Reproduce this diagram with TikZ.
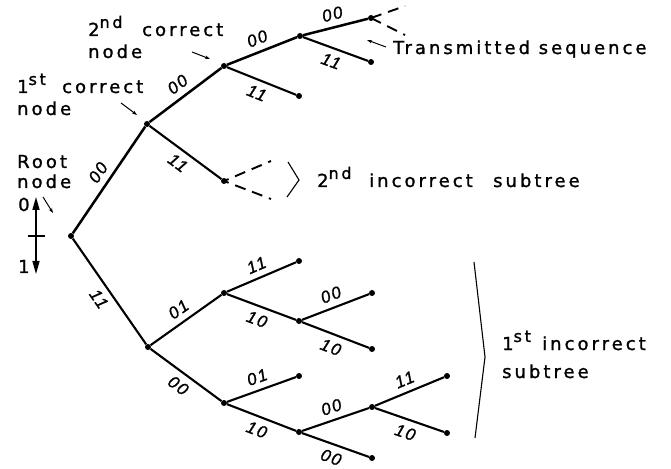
\documentclass[tikz,border=0pt]{standalone}
\usepackage{fontspec}
\setmainfont{DejaVu Sans}[LetterSpace=17,FakeBold=1.3]
\newfontfamily\labfont{Liberation Sans Italic}[LetterSpace=10,FakeBold=1.2]
\usetikzlibrary{arrows.meta}
\newcommand{\supx}[1]{\raisebox{0.45em}{\fontsize{16}{16}\selectfont #1}}
\begin{document}
\begin{tikzpicture}[x=1bp,y=-1bp,
  dot/.style={circle,fill,inner sep=0pt,minimum size=6bp},
  br/.style={line width=2.1bp},
  mainbr/.style={line width=2.5bp},
  dsh/.style={line width=1.9bp,dash pattern=on 11bp off 7bp},
  lab/.style={font=\labfont\fontsize{17}{17}\selectfont,inner sep=0pt},
  lbup/.style={lab,above=6bp,sloped},
  lbdn/.style={lab,below=6bp,sloped},
  txt/.style={font=\fontsize{18}{18}\selectfont,inner sep=0pt,anchor=base west},
  pt/.style={-{Stealth[length=5bp,width=3.5bp]},line width=1bp},
  thin/.style={line width=1.1bp}]
\useasboundingbox (0,0) rectangle (671,469);
% nodes
\node[dot] (r) at (71,236) {};
\node[dot] (c1) at (147,124) {};
\node[dot] (c2) at (224,66) {};
\node[dot] (c3) at (300,36) {};
\node[dot] (c4) at (371,18) {};
\node[dot] (a1) at (299,96) {};
\node[dot] (a2) at (371,62) {};
\node[dot] (i2) at (224,181) {};
\coordinate (d1) at (405,6);
\coordinate (d2) at (405,35);
\coordinate (e1) at (271,161);
\coordinate (e2) at (271,199);
\node[dot] (l1) at (148,347) {};
\node[dot] (l2) at (224,293) {};
\node[dot] (l3) at (299,261) {};
\node[dot] (l4) at (299,321) {};
\node[dot] (l5) at (372,293) {};
\node[dot] (l6) at (372,349) {};
\node[dot] (m1) at (224,403) {};
\node[dot] (m2) at (299,376) {};
\node[dot] (m3) at (299,432) {};
\node[dot] (m4) at (372,407) {};
\node[dot] (m5) at (372,458) {};
\node[dot] (m6) at (447,376) {};
\node[dot] (m7) at (447,433) {};
% correct path
\draw[mainbr] (r) -- node[lbup]{00} (c1);
\draw[mainbr] (c1) -- node[lbup]{00} (c2);
\draw[mainbr] (c2) -- node[lbup]{00} (c3);
\draw[mainbr] (c3) -- node[lbup]{00} (c4);
\draw[br] (c2) -- node[lbdn]{11} (a1);
\draw[br] (c3) -- node[lbdn]{11} (a2);
\draw[br] (c1) -- node[lbdn]{11} (i2);
\draw[dsh] (c4.center) -- (d1);
\draw[dsh] (c4.center) -- (d2);
\draw[dsh,dash phase=6bp] (i2.center) -- (e1);
\draw[dsh,dash phase=6bp] (i2.center) -- (e2);
% lower subtree
\draw[br] (r) -- node[lbdn]{11} (l1);
\draw[br] (l1) -- node[lbup]{01} (l2);
\draw[br] (l2) -- node[lbup]{11} (l3);
\draw[br] (l2) -- node[lbdn]{10} (l4);
\draw[br] (l4) -- node[lbup]{00} (l5);
\draw[br] (l4) -- node[lbdn]{10} (l6);
\draw[br] (l1) -- node[lbdn]{00} (m1);
\draw[br] (m1) -- node[lbup]{01} (m2);
\draw[br] (m1) -- node[lbdn]{10} (m3);
\draw[br] (m3) -- node[lbup]{00} (m4);
\draw[br] (m3) -- node[lbdn]{00} (m5);
\draw[br] (m4) -- node[lbup]{11} (m6);
\draw[br] (m4) -- node[lbdn]{10} (m7);
% texts
\node[txt] (t2a) at (88,36) {2\supx{nd}};
\node[txt] (t2b) at (142,36) {correct};
\node[txt] (t2c) at (88,58) {node};
\node[txt] (t1a) at (17,93) {1\supx{st}};
\node[txt] (t1b) at (62,93) {correct};
\node[txt] (t1c) at (17,115) {node};
\node[txt] (tr1) at (17,168) {Root};
\node[txt] (tr2) at (17,188) {node};
\node[txt] (t0) at (18,211) {0};
\node[txt] (t1) at (18,273) {1};
\node[txt] (tts) at (393,54) {Transmitted sequence};
\node[txt] (ti2a) at (317,187) {2\supx{nd}};
\node[txt] (ti2b) at (369,187) {incorrect};
\node[txt] (ti2c) at (493,187) {subtree};
\node[txt] (ti1a) at (502,350) {1\supx{st}};
\node[txt] (ti1b) at (542,350) {incorrect};
\node[txt] (ti1c) at (502,378) {subtree};
% pointer arrows
\coordinate (p2s) at (192,52); \coordinate (p2e) at (210,59);
\draw[pt] (p2s) -- (p2e);
\coordinate (p1s) at (121,103); \coordinate (p1e) at (137,115);
\draw[pt] (p1s) -- (p1e);
\coordinate (prs) at (43,197); \coordinate (pre) at (53,213);
\draw[pt] (prs) -- (pre);
\coordinate (pts) at (386,47); \coordinate (pte) at (367,40);
\draw[pt] (pts) -- (pte);
% up-down arrow
\coordinate (ua) at (36,197); \coordinate (ub) at (36,274);
\draw[line width=1.6bp,{Triangle[length=13bp,width=7bp]}-{Triangle[length=13bp,width=7bp]}] (ua) -- (ub);
\coordinate (ta) at (28,236); \coordinate (tb) at (45,236);
\draw[line width=1.3bp] (ta) -- (tb);
% brackets
\coordinate (b1) at (288,162); \coordinate (b2) at (299,180); \coordinate (b3) at (287,197);
\draw[thin] (b1) -- (b2) -- (b3);
\coordinate (k1) at (474,262); \coordinate (k2) at (485,357); \coordinate (k3) at (475,438);
\draw[thin] (k1) -- (k2) -- (k3);
\end{tikzpicture}
\end{document}
